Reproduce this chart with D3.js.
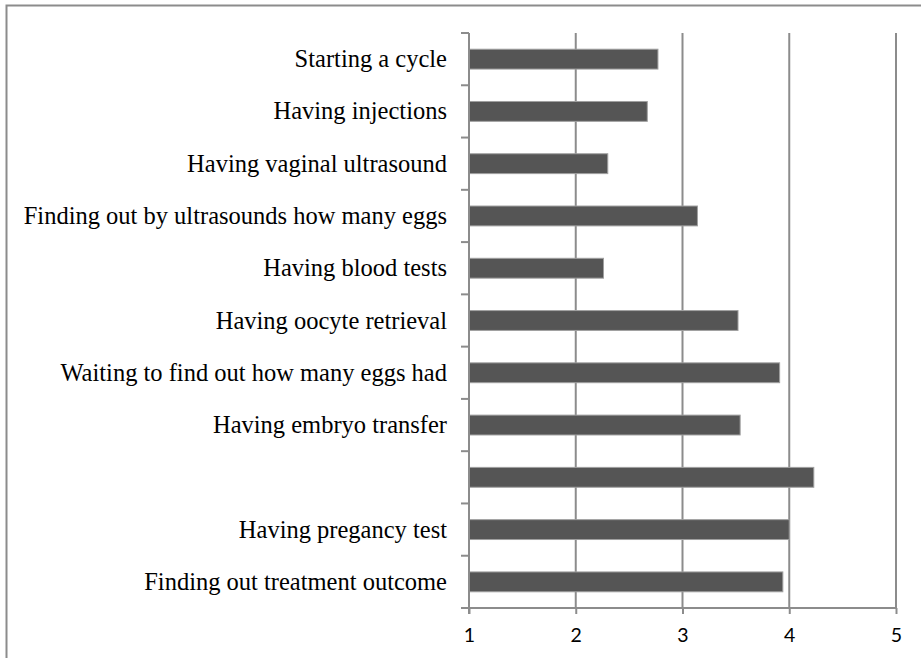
<!DOCTYPE html>
<html>
<head>
<meta charset="utf-8">
<script src="https://cdn.jsdelivr.net/npm/d3@7"></script>
<style>
  body { margin: 0; background: #fff; }
  svg { display: block; }
</style>
</head>
<body>
<svg id="chart" width="921" height="658"></svg>
<script>
// categories top -> bottom, one label is blank in the source
var steps = [
  "Starting a cycle",
  "Having injections",
  "Having vaginal ultrasound",
  "Finding out by ultrasounds how many eggs",
  "Having blood tests",
  "Having oocyte retrieval",
  "Waiting to find out how many eggs had",
  "Having embryo transfer",
  "",
  "Having pregancy test",
  "Finding out treatment outcome"
];
var scores = [2.77, 2.67, 2.30, 3.14, 2.26, 3.52, 3.91, 3.54, 4.23, 4.00, 3.94];
var xTicks = [1, 2, 3, 4, 5];

var W = 921, H = 658;
var plotL = 469, plotR = 896, plotT = 33, plotB = 608;
var gridCol = "#8c8c8c";

var data = steps.map(function(s, i) { return {label: s, value: scores[i], idx: i}; });

var svg = d3.select("#chart");

// outer frame (only top & left edges visible in the source)
svg.append("rect")
    .attr("x", 6.5).attr("y", 5.5)
    .attr("width", W).attr("height", H)
    .attr("fill", "none")
    .attr("stroke", gridCol)
    .attr("stroke-width", 2);

var xScale = d3.scaleLinear().domain([1, 5]).range([plotL, plotR]);
var yScale = d3.scaleBand()
    .domain(d3.range(steps.length))
    .range([plotT, plotB])
    .paddingInner(0.62)
    .paddingOuter(0.31);

// vertical gridlines
svg.append("g")
    .selectAll("line")
    .data(xTicks.slice(1))
    .enter()
    .append("line")
    .attr("x1", function(d) { return xScale(d); })
    .attr("x2", function(d) { return xScale(d); })
    .attr("y1", plotT).attr("y2", plotB)
    .attr("stroke", gridCol)
    .attr("stroke-width", 2);

// bars
svg.append("g")
    .selectAll("rect")
    .data(data)
    .enter()
    .append("rect")
    .attr("x", xScale(1))
    .attr("y", function(d) { return yScale(d.idx); })
    .attr("width", function(d) { return xScale(d.value) - xScale(1); })
    .attr("height", yScale.bandwidth())
    .attr("fill", "#555555")
    .attr("stroke", "#a0a0a0")
    .attr("stroke-width", 1);

// y axis : ticks between categories
var yTickPos = d3.range(steps.length + 1).map(function(i) { return plotT + i * (plotB - plotT) / steps.length; });
var yAxis = svg.append("g");
yAxis.append("line")
    .attr("x1", plotL).attr("x2", plotL)
    .attr("y1", plotT).attr("y2", plotB + 6)
    .attr("stroke", gridCol).attr("stroke-width", 2);
yAxis.selectAll("line.tk")
    .data(yTickPos)
    .enter()
    .append("line")
    .attr("class", "tk")
    .attr("x1", plotL - 8).attr("x2", plotL)
    .attr("y1", function(d) { return d; })
    .attr("y2", function(d) { return d; })
    .attr("stroke", gridCol).attr("stroke-width", 2);

yAxis.selectAll("text")
    .data(data)
    .enter()
    .append("text")
    .attr("x", plotL - 22)
    .attr("y", function(d) { return yScale(d.idx) + yScale.bandwidth() / 2; })
    .attr("dy", "0.33em")
    .attr("text-anchor", "end")
    .attr("font-family", "'Liberation Serif', 'Times New Roman', serif")
    .attr("font-size", 24.5)
    .attr("fill", "#000")
    .text(function(d) { return d.label; });

// x axis
var xAxis = svg.append("g")
    .attr("transform", "translate(0," + plotB + ")")
    .call(d3.axisBottom(xScale).tickValues(xTicks).tickSize(6).tickPadding(14).tickFormat(d3.format("d")));
xAxis.select(".domain").attr("stroke", gridCol).attr("stroke-width", 2).attr("d", "M" + (plotL - 8) + ",0H" + plotR);
xAxis.selectAll(".tick line").attr("stroke", gridCol).attr("stroke-width", 2);
xAxis.selectAll(".tick text")
    .attr("font-family", "Lato, 'Open Sans', sans-serif")
    .attr("font-size", 19.5)
    .attr("fill", "#000");
</script>
</body>
</html>
